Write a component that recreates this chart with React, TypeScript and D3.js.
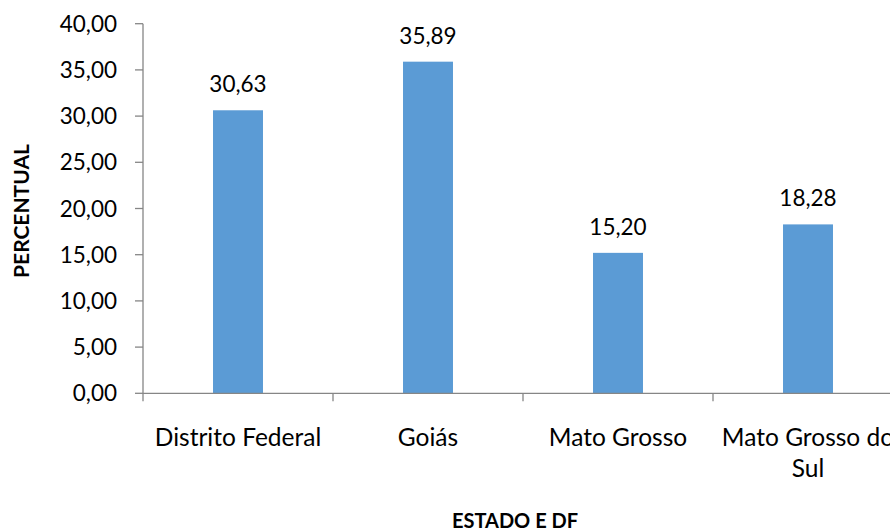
import React from "react";
import * as d3 from "d3";

const categories = ["Distrito Federal", "Goiás", "Mato Grosso", "Mato Grosso do Sul"];
const categoryLines = [["Distrito Federal"], ["Goiás"], ["Mato Grosso"], ["Mato Grosso do", "Sul"]];
const values = [30.63, 35.89, 15.2, 18.28];
const yTicks = [0, 5, 10, 15, 20, 25, 30, 35, 40];

const W = 890;
const H = 531;
const FONT = "Lato, 'Open Sans', sans-serif";
const fmt = (v: number) => v.toFixed(2).replace(".", ",");

export default function App() {
  const x = d3.scaleBand<string>().domain(categories).range([143, 903]).padding(0);
  const y = d3.scaleLinear().domain([0, 40]).range([393.3, 23.7]);
  const bw = x.bandwidth() * 0.263;
  const axisColor = "#868686";

  return (
    <svg width={W} height={H} style={{ position: "absolute", left: 0, top: 0, background: "#fff" }} fontFamily={FONT}>
      {categories.map((c, i) => {
        const cx = (x(c) as number) + x.bandwidth() / 2;
        return (
          <g key={c}>
            <rect x={cx - bw / 2} y={y(values[i])} width={bw} height={y(0) - y(values[i])} fill="#5B9BD5" />
            <text x={cx} y={y(values[i]) - 18} textAnchor="middle" fontSize={22.5} fill="#000">
              {fmt(values[i])}
            </text>
          </g>
        );
      })}
      <line x1={143} x2={143} y1={y(40)} y2={y(0) + 8} stroke={axisColor} strokeWidth={1.3} />
      {yTicks.map((t) => (
        <g key={t}>
          <line x1={135} x2={143} y1={y(t)} y2={y(t)} stroke={axisColor} strokeWidth={1.3} />
          <text x={117} y={y(t)} dy="0.36em" textAnchor="end" fontSize={22.5} fill="#000">
            {fmt(t)}
          </text>
        </g>
      ))}
      <line x1={143} x2={W} y1={y(0)} y2={y(0)} stroke={axisColor} strokeWidth={1.3} />
      {categories.map((c, i) => {
        const x0 = (x(c) as number) + x.bandwidth();
        return <line key={"t" + i} x1={x0} x2={x0} y1={y(0)} y2={y(0) + 8} stroke={axisColor} strokeWidth={1.3} />;
      })}
      {categories.map((c, i) => {
        const cx = (x(c) as number) + x.bandwidth() / 2;
        return (
          <text key={"l" + i} x={cx} y={446} textAnchor="middle" fontSize={24.5} fill="#000">
            {categoryLines[i].map((ln, j) => (
              <tspan key={j} x={cx} dy={j === 0 ? 0 : 31}>
                {ln}
              </tspan>
            ))}
          </text>
        );
      })}
      <text x={515} y={528} textAnchor="middle" fontSize={20} fontWeight="bold" fill="#000">
        ESTADO E DF
      </text>
      <text transform="translate(29,211) rotate(-90)" textAnchor="middle" fontSize={21} fontWeight="bold" fill="#000">
        PERCENTUAL
      </text>
    </svg>
  );
}
